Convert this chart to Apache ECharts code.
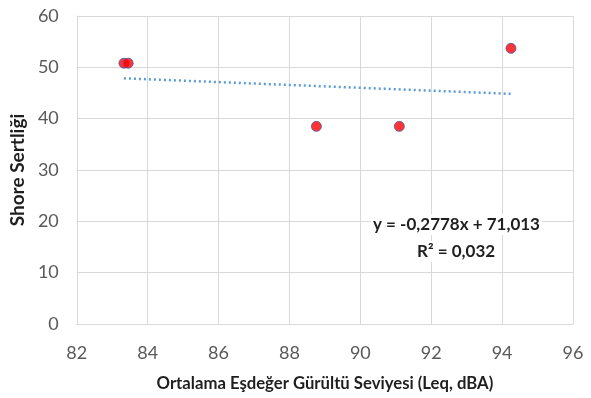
<!DOCTYPE html>
<html>
<head>
<meta charset="utf-8">
<script src="https://cdn.jsdelivr.net/npm/echarts@6/dist/echarts.min.js"></script>
<style>
html,body{margin:0;padding:0;background:#fff;}
#c{width:591px;height:398px;}
</style>
</head>
<body>
<div id="c"></div>
<script>
// Data
const xValues = [83.33, 83.45, 88.76, 91.10, 94.25];
const yValues = [50.8, 50.8, 38.5, 38.5, 53.7];
const trendSlope = -0.2778;
const trendIntercept = 71.013;
const equationLines = ['y = -0,2778x + 71,013', 'R² = 0,032'];
const xTicks = [82, 84, 86, 88, 90, 92, 94, 96];
const yTicks = [0, 10, 20, 30, 40, 50, 60];
const xTitle = 'Ortalama Eşdeğer Gürültü Seviyesi (Leq, dBA)';
const yTitle = 'Shore Sertliği';

const points = xValues.map((x, i) => [x, yValues[i]]);
const xMin = Math.min(...xValues), xMax = Math.max(...xValues);
const trend = [[xMin, trendSlope * xMin + trendIntercept], [xMax, trendSlope * xMax + trendIntercept]];

const FONT = 'Lato';
const chart = echarts.init(document.getElementById('c'));
chart.setOption({
  animation: false,
  grid: { left: 76, right: 18, top: 16, bottom: 74, containLabel: false },
  xAxis: {
    type: 'value', min: xTicks[0], max: xTicks[xTicks.length - 1], interval: 2,
    name: xTitle, nameLocation: 'middle', nameGap: 51,
    nameTextStyle: { fontFamily: FONT, fontSize: 16.7, fontWeight: 'bold', color: '#1f1f1f' },
    axisLine: { show: true, lineStyle: { color: '#d9d9d9', width: 1 } },
    axisTick: { show: false },
    splitLine: { show: true, lineStyle: { color: '#d9d9d9', width: 1 } },
    axisLabel: { fontFamily: FONT, fontSize: 18, color: '#595959', margin: 20 }
  },
  yAxis: {
    type: 'value', min: yTicks[0], max: yTicks[yTicks.length - 1], interval: 10,
    name: yTitle, nameLocation: 'middle', nameGap: 46, nameRotate: 90,
    nameTextStyle: { fontFamily: FONT, fontSize: 19, fontWeight: 'bold', color: '#1f1f1f' },
    axisLine: { show: true, lineStyle: { color: '#d9d9d9', width: 1 } },
    axisTick: { show: false },
    splitLine: { show: true, lineStyle: { color: '#d9d9d9', width: 1 } },
    axisLabel: { fontFamily: FONT, fontSize: 18, color: '#595959', margin: 18 }
  },
  series: [
    {
      type: 'line', data: trend, symbol: 'none', silent: true,
      lineStyle: { color: '#5b9bd5', width: 2.5, type: [2, 3] }, z: 1
    },
    {
      type: 'scatter', data: points, symbol: 'circle', symbolSize: 10,
      itemStyle: { color: '#ff0000', borderColor: '#4a5aa8', borderWidth: 1 }, z: 3
    }
  ],
  graphic: [
    {
      type: 'text', left: 371, top: 214, z: 10,
      style: { text: equationLines[0], font: 'bold 17px ' + FONT, fill: '#1f1f1f',
               backgroundColor: '#ffffff', padding: [2, 2] }
    },
    {
      type: 'text', left: 415, top: 241, z: 10,
      style: { text: equationLines[1], font: 'bold 17px ' + FONT, fill: '#1f1f1f',
               backgroundColor: '#ffffff', padding: [2, 2] }
    }
  ]
});
</script>
</body>
</html>
